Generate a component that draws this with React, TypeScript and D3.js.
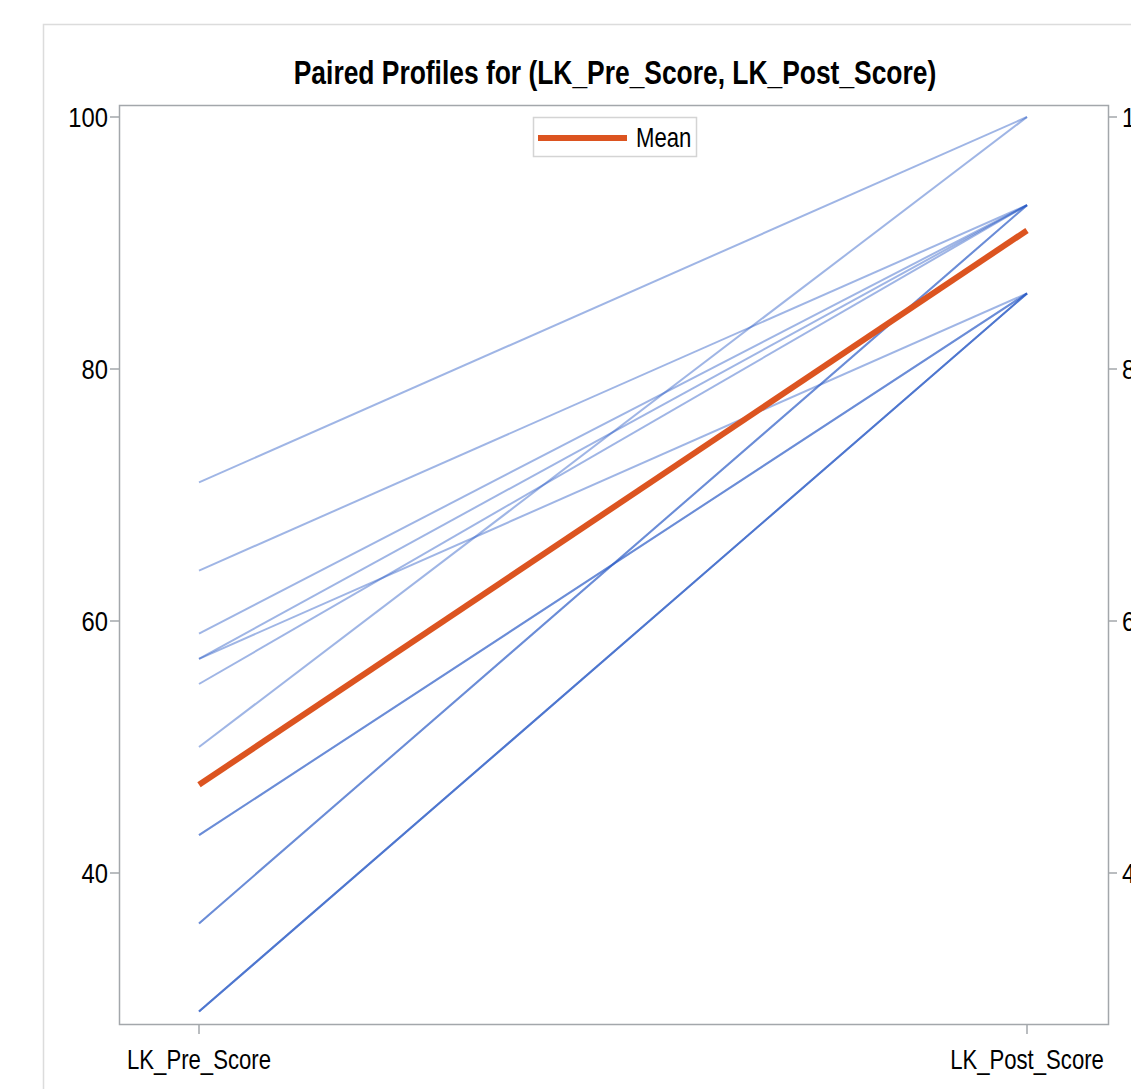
import React, { useEffect, useRef } from 'react';
import * as d3 from 'd3';

const variables = ['LK_Pre_Score', 'LK_Post_Score'];
const preScores = [71, 50, 64, 59, 57, 55, 36, 36, 57, 43, 43, 29, 29, 29];
const postScores = [100, 100, 93, 93, 93, 93, 93, 93, 86, 86, 86, 86, 86, 86];
const yTicks = [40, 60, 80, 100];
const title = 'Paired Profiles for (LK_Pre_Score, LK_Post_Score)';

const FONT = '"Liberation Sans Narrow", "Arial Narrow", "Liberation Sans", Arial, sans-serif';
const NARROW = 0.82; // no condensed font installed, so squeeze the glyphs

type Sel = d3.Selection<any, unknown, null, undefined>;

// draws a text squeezed horizontally to look like Arial Narrow
const narrowText = (g: Sel, x: number, y: number, s: string | number, size: number, anchor = 'start', bold = false, sx = NARROW) =>
  g.append('text')
    .attr('transform', `translate(${x},${y}) scale(${sx},1)`)
    .attr('text-anchor', anchor)
    .attr('dy', '0.36em')
    .style('font-family', FONT)
    .style('font-size', `${size}px`)
    .style('font-weight', bold ? 'bold' : 'normal')
    .attr('fill', '#000')
    .text(s);

const App = () => {
  const ref = useRef<SVGSVGElement | null>(null);

  useEffect(() => {
    const width = 1131;
    const height = 1089;
    const left = 119;
    const right = 1108;
    const top = 105;
    const bottom = 1024;

    const svg = d3.select(ref.current);
    svg.selectAll('*').remove();
    svg.attr('width', width).attr('height', height);

    // outer frame of the output panel
    svg.append('path')
      .attr('d', `M43.5,${height} V24.5 H${width}`)
      .attr('fill', 'none')
      .attr('stroke', '#dcdcdc')
      .attr('stroke-width', 1.5);

    const x = d3.scalePoint<string>().domain(variables).range([199, 1027]);
    const y = d3.scaleLinear().domain([40, 100]).range([873, 117]);

    narrowText(svg as Sel, 615, 72, title, 33, 'middle', true, 0.8);

    // subject profiles
    const pairs = preScores.map((p, i) => [p, postScores[i]]);
    const line = d3.line<number>()
      .x((_, i) => x(variables[i]) as number)
      .y((d) => y(d));

    svg.append('g')
      .selectAll('path')
      .data(pairs)
      .enter()
      .append('path')
      .attr('d', (d) => line(d))
      .attr('fill', 'none')
      .attr('stroke', '#2a5bc6')
      .attr('stroke-opacity', 0.45)
      .attr('stroke-width', 2);

    const meanPair = [d3.mean(preScores) as number, d3.mean(postScores) as number];
    svg.append('path')
      .attr('d', line(meanPair))
      .attr('fill', 'none')
      .attr('stroke', '#dc5420')
      .attr('stroke-width', 6);

    // plot frame
    svg.append('rect')
      .attr('x', left + 0.5)
      .attr('y', top + 0.5)
      .attr('width', right - left)
      .attr('height', bottom - top)
      .attr('fill', 'none')
      .attr('stroke', '#a3a7ab')
      .attr('stroke-width', 1.5);

    // left axis
    const yl = svg.append('g') as Sel;
    yTicks.forEach((t) => {
      yl.append('line')
        .attr('x1', left - 9).attr('x2', left)
        .attr('y1', y(t)).attr('y2', y(t))
        .attr('stroke', '#a3a7ab').attr('stroke-width', 1.5);
      narrowText(yl, left - 11, y(t), t, 27, 'end', false, 0.88);
    });

    // right axis (labels run past the panel edge, as in the original)
    const yr = svg.append('g') as Sel;
    yTicks.forEach((t) => {
      yr.append('line')
        .attr('x1', right).attr('x2', right + 9)
        .attr('y1', y(t)).attr('y2', y(t))
        .attr('stroke', '#a3a7ab').attr('stroke-width', 1.5);
      narrowText(yr, right + 14, y(t), t, 27, 'start', false, 0.88);
    });

    // bottom axis
    const xa = svg.append('g') as Sel;
    variables.forEach((v) => {
      xa.append('line')
        .attr('x1', x(v) as number).attr('x2', x(v) as number)
        .attr('y1', bottom).attr('y2', bottom + 10)
        .attr('stroke', '#a3a7ab').attr('stroke-width', 1.5);
      narrowText(xa, x(v) as number, bottom + 35, v, 27, 'middle');
    });

    // legend
    const lg = svg.append('g') as Sel;
    lg.append('rect')
      .attr('x', 533.5).attr('y', 117.5)
      .attr('width', 163).attr('height', 39)
      .attr('fill', '#fff')
      .attr('stroke', '#d4d4d4')
      .attr('stroke-width', 1.5);
    lg.append('line')
      .attr('x1', 538).attr('x2', 627)
      .attr('y1', 138).attr('y2', 138)
      .attr('stroke', '#dc5420').attr('stroke-width', 6);
    narrowText(lg, 636, 137, 'Mean', 27);
  }, []);

  return (
    <svg ref={ref} style={{ position: 'absolute', left: 0, top: 0, background: '#fff' }} />
  );
};

export default App;
